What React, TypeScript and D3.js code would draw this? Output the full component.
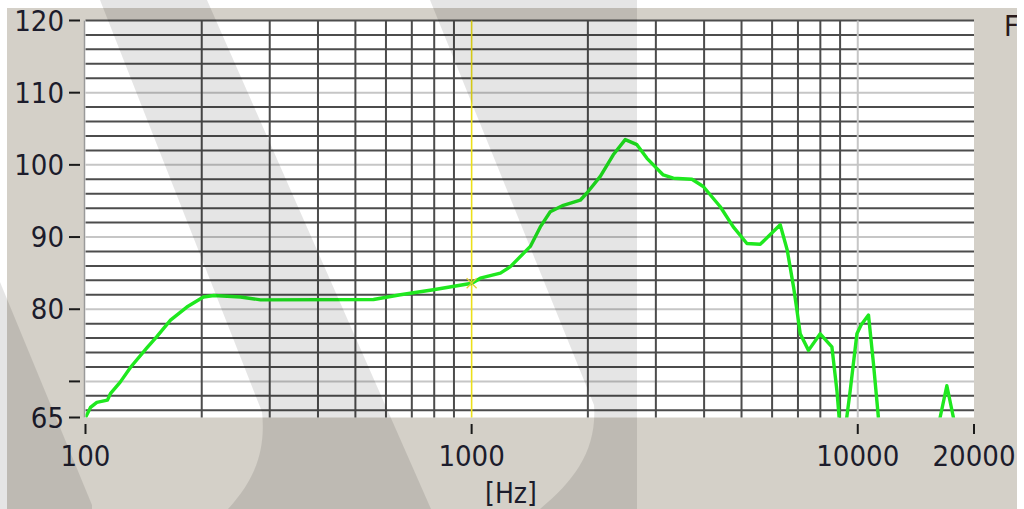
import React from "react";
import * as d3 from "d3";

const freqs = [100, 103, 107, 114, 116, 123, 131, 144, 153, 166, 183, 202, 215, 252, 284, 557, 654, 796, 1002, 1053, 1187, 1260, 1419, 1506, 1598, 1728, 1911, 1989, 2154, 2327, 2499, 2680, 2845, 3135, 3328, 3720, 3980, 4405, 4760, 5163, 5590, 6297, 6566, 6818, 6956, 7095, 7455, 7993, 8570, 8830, 9110, 9560, 9950, 10200, 10660, 10980, 11310, 12000, 16000, 16340, 17010, 17690, 18000];
const levels = [65.0, 66.4, 67.1, 67.4, 68.3, 69.9, 72.0, 74.6, 76.2, 78.5, 80.3, 81.7, 81.9, 81.7, 81.3, 81.35, 82.0, 82.7, 83.6, 84.3, 85.0, 85.9, 88.7, 91.4, 93.5, 94.4, 95.1, 96.1, 98.4, 101.4, 103.5, 102.8, 100.9, 98.6, 98.15, 98.0, 97.0, 94.2, 91.4, 89.1, 89.0, 91.7, 88.2, 83.1, 79.9, 76.6, 74.3, 76.6, 74.8, 68.75, 60, 68.75, 76.6, 77.8, 79.2, 72.5, 65, 55, 55, 65, 69.4, 65, 55];

const yTickValues = [120, 110, 100, 90, 80, 70, 65];
const yTickLabels = ["120", "110", "100", "90", "80", "", "65"];
const xTickValues = [100, 1000, 10000, 20000];
const xTickLabels = ["100", "1000", "10000", "20000"];
const xMinorGrid = [200, 300, 400, 500, 600, 700, 800, 900, 2000, 3000, 4000, 5000, 6000, 7000, 8000, 9000];
const xMajorGrid = [10000];
const cursorFreq = 1000;
const xUnit = "[Hz]";

const W = 1024;
const H = 509;
const FONT = "'DejaVu Sans Condensed', 'DejaVu Sans', sans-serif";

export default function App() {
  const x = d3.scaleLog().domain([100, 20000]).range([85.5, 974]);
  const y = d3.scaleLinear().domain([65, 120]).range([417.5, 20.5]);
  const [x0, x1] = x.range();
  const [yb, yt] = y.range();

  const hLines = d3.range(66, 121, 2);
  const pts: [number, number][] = freqs.map((f, i) => [f, levels[i]]);
  const line = d3
    .line<[number, number]>()
    .x((d) => x(d[0]))
    .y((d) => y(d[1]));

  const cx = x(cursorFreq);
  const cursorLevel = 83.6;
  const cy = y(cursorLevel);

  return (
    <svg
      width={W}
      height={H}
      style={{ position: "absolute", left: 0, top: 0, display: "block" }}
    >
      <defs>
        <clipPath id="plotClip">
          <rect x={x0} y={yt} width={x1 - x0} height={yb - yt} />
        </clipPath>
        <clipPath id="panelClip">
          <rect x={7} y={8} width={1010} height={H - 8} />
        </clipPath>
      </defs>
      <rect x={0} y={0} width={W} height={H} fill="#ffffff" />
      <rect x={7} y={8} width={1010} height={H - 8} fill="#d4d0c8" />
      <rect x={x0 - 1.5} y={yt} width={x1 - x0 + 1.5} height={yb - yt} fill="#ffffff" />
      {hLines.map((v) => {
        const major = v % 10 === 0 && v !== 120;
        return (
          <line
            key={"h" + v}
            x1={x0}
            x2={x1}
            y1={y(v)}
            y2={y(v)}
            stroke={major ? "#c6c6c6" : "#4c4c4c"}
            strokeWidth={2}
          />
        );
      })}
      {xMinorGrid.map((f) => (
        <line key={"v" + f} x1={x(f)} x2={x(f)} y1={yt} y2={yb} stroke="#4c4c4c" strokeWidth={2} />
      ))}
      {xMajorGrid.map((f) => (
        <line key={"V" + f} x1={x(f)} x2={x(f)} y1={yt} y2={yb} stroke="#c6c6c6" strokeWidth={2} />
      ))}
      <line x1={x0 - 1} x2={x0 - 1} y1={yt} y2={yb} stroke="#9a9a9a" strokeWidth={1.5} />
      <line x1={cx} x2={cx} y1={yt} y2={yb} stroke="#ece01a" strokeWidth={1.6} />
      <g clipPath="url(#plotClip)">
        <path d={line(pts) || ""} fill="none" stroke="#1fe81f" strokeWidth={3.4} strokeLinejoin="round" />
      </g>
      <g stroke="#e0d030" strokeWidth={1.2}>
        <line x1={cx - 5} x2={cx + 5} y1={cy - 5} y2={cy + 5} />
        <line x1={cx - 5} x2={cx + 5} y1={cy + 5} y2={cy - 5} />
      </g>
      {yTickValues.map((v, i) => (
        <g key={"yt" + v}>
          <line x1={69} x2={80} y1={y(v)} y2={y(v)} stroke="#1a1a1a" strokeWidth={2} />
          {yTickLabels[i] && (
            <text
              x={64}
              y={y(v) + 10}
              textAnchor="end"
              fontFamily={FONT}
              fontSize={29}
              fill="#1c1c2c"
            >
              {yTickLabels[i]}
            </text>
          )}
        </g>
      ))}
      {xTickValues.map((f, i) => (
        <g key={"xt" + f}>
          <line x1={x(f)} x2={x(f)} y1={424} y2={434} stroke="#1a1a1a" strokeWidth={2} />
          <text
            x={x(f)}
            y={466}
            textAnchor="middle"
            fontFamily={FONT}
            fontSize={29}
            fill="#1c1c2c"
            clipPath="url(#panelClip)"
          >
            {xTickLabels[i]}
          </text>
        </g>
      ))}
      <text x={511} y={503} textAnchor="middle" fontFamily={FONT} fontSize={28} fill="#1c1c2c">
        {xUnit}
      </text>
      <g clipPath="url(#panelClip)">
        <text x={1004} y={36} fontFamily={FONT} fontSize={29} fill="#2a1a1a">
          F
        </text>
      </g>
      <g fill="#000000" fillOpacity={0.1}>
        <path d="M0,282 L92,505 L92,509 L0,509 Z" />
        <path d="M100,0 L207,0 L431,509 L228,509 C255,480 266,450 262,412 Z" />
        <path d="M430,0 L637,0 L637,509 L540,509 C575,480 597,450 594,405 Z" />
      </g>
    </svg>
  );
}
